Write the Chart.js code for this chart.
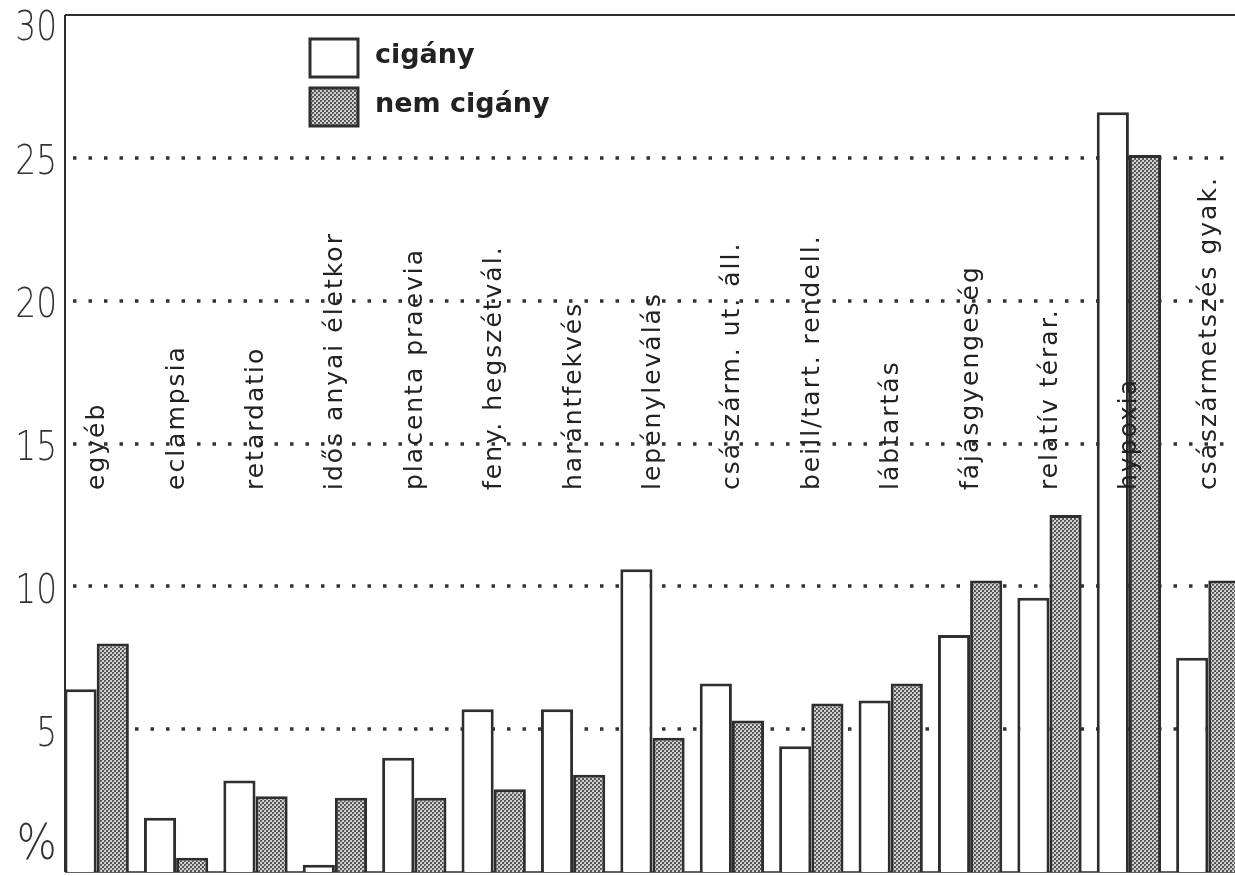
<!DOCTYPE html>
<html>
<head>
<meta charset="utf-8">
<script src="https://cdn.jsdelivr.net/npm/chart.js@4/dist/chart.umd.min.js"></script>
<style>
html,body{margin:0;padding:0;background:#fff;overflow:hidden;width:1235px;height:876px;}
canvas{display:block;}
</style>
</head>
<body>
<canvas id="c" width="1248" height="876"></canvas>
<script>
const categories = ["egyéb","eclampsia","retardatio","idős anyai életkor","placenta praevia","feny. hegszétvál.","harántfekvés","lepényleválás","császárm. ut. áll.","beill/tart. rendell.","lábtartás","fájásgyengeség","relatív térar.","hypoxia","császármetszés gyak."];
const cigany    = [6.4, 1.9, 3.2, 0.25, 4.0, 5.7, 5.7, 10.6, 6.6, 4.4, 6.0, 8.3, 9.6, 26.6, 7.5];
const nemCigany = [8.0, 0.5, 2.65, 2.6, 2.6, 2.9, 3.4, 4.7, 5.3, 5.9, 6.6, 10.2, 12.5, 25.1, 10.2];
const seriesNames = ["cigány", "nem cigány"];
const yTicks = [5, 10, 15, 20, 25, 30];
const zeroLabel = "%";

function makePattern(){
  const p = document.createElement('canvas');
  p.width = 4; p.height = 4;
  const g = p.getContext('2d');
  g.fillStyle = '#d0d0d0'; g.fillRect(0,0,4,4);
  g.fillStyle = '#555';
  g.fillRect(0,0,2,2);
  g.fillRect(2,2,2,2);
  g.fillStyle = '#888';
  g.fillRect(1,1,1,1);
  return document.getElementById('c').getContext('2d').createPattern(p,'repeat');
}
const pattern = makePattern();
const INK = '#2e2e2e';
const TXT_FONT = '"DejaVu Sans", "Open Sans", sans-serif';
const TICK_FONT = '"DejaVu Sans", "Liberation Sans", sans-serif';
const AXIS_X = 65;

const decor = {
  id: 'decor',
  beforeDatasetsDraw(chart){
    const ctx = chart.ctx, ys = chart.scales.y;
    ctx.save();
    ctx.strokeStyle = '#333'; ctx.lineWidth = 3.5;
    ctx.setLineDash([3.5, 12]);
    yTicks.filter(v => v < 30).forEach(v => {
      const y = Math.round(ys.getPixelForValue(v));
      ctx.beginPath(); ctx.moveTo(AXIS_X + 8, y); ctx.lineTo(chart.width, y); ctx.stroke();
    });
    ctx.setLineDash([]);
    ctx.strokeStyle = INK; ctx.lineWidth = 2;
    const yt = ys.getPixelForValue(30);
    ctx.beginPath(); ctx.moveTo(AXIS_X, yt); ctx.lineTo(chart.width, yt); ctx.stroke();
    ctx.lineWidth = 1.5;
    const yb = ys.getPixelForValue(0);
    ctx.beginPath(); ctx.moveTo(AXIS_X, yb); ctx.lineTo(chart.width, yb); ctx.stroke();
    ctx.lineWidth = 2;
    ctx.beginPath(); ctx.moveTo(AXIS_X, yt); ctx.lineTo(AXIS_X, yb); ctx.stroke();
    ctx.fillStyle = '#333';
    ctx.textAlign = 'right';
    ctx.textBaseline = 'middle';
    ctx.font = '200 40px ' + TICK_FONT;
    yTicks.forEach(v => {
      const y = Math.max(ys.getPixelForValue(v) + 6, 30);
      ctx.save();
      ctx.translate(57, y);
      ctx.scale(0.82, 1);
      ctx.fillText(String(v), 0, 0);
      ctx.restore();
    });
    ctx.font = '200 50px ' + TICK_FONT;
    ctx.save();
    ctx.translate(57, yb - 26);
    ctx.scale(0.85, 1);
    ctx.fillText(zeroLabel, 0, 0);
    ctx.restore();
    ctx.restore();
  },
  afterDatasetsDraw(chart){
    const ctx = chart.ctx;
    const xs = chart.scales.x;
    ctx.save();
    ctx.fillStyle = '#222';
    ctx.font = '25px ' + TXT_FONT;
    ctx.letterSpacing = '2px';
    ctx.textAlign = 'left';
    ctx.textBaseline = 'middle';
    categories.forEach((c,i)=>{
      const x = xs.getPixelForValue(i) + 1;
      ctx.save();
      ctx.translate(x, 490);
      ctx.rotate(-Math.PI/2);
      ctx.fillText(c, 0, 0);
      ctx.restore();
    });
    ctx.letterSpacing = '0px';
    const boxes = [{y:39, fill:'#fff'}, {y:88, fill:pattern}];
    ctx.font = 'bold 27px ' + TXT_FONT;
    boxes.forEach((b,i)=>{
      ctx.fillStyle = b.fill;
      ctx.fillRect(310, b.y, 48, 38);
      ctx.strokeStyle = INK; ctx.lineWidth = 3;
      ctx.strokeRect(310, b.y, 48, 38);
      ctx.fillStyle = '#222';
      ctx.fillText(seriesNames[i], 375, b.y + 17);
    });
    ctx.restore();
  }
};

new Chart(document.getElementById('c'), {
  type: 'bar',
  data: {
    labels: categories,
    datasets: [
      {label: seriesNames[0], data: cigany, backgroundColor: '#fff', borderColor: INK, borderWidth: 3, borderSkipped: 'bottom'},
      {label: seriesNames[1], data: nemCigany, backgroundColor: pattern, borderColor: INK, borderWidth: 3, borderSkipped: 'bottom'}
    ]
  },
  options: {
    responsive: false,
    animation: false,
    events: [],
    layout: {padding: {top: 15, right: 0, bottom: 4, left: 0}},
    datasets: {bar: {barPercentage: 1.0, categoryPercentage: 0.81}},
    plugins: {legend: {display: false}, tooltip: {enabled: false}},
    scales: {
      x: {display: false},
      y: {
        min: 0, max: 30,
        afterFit(s){ s.width = 57; },
        ticks: {display: false},
        grid: {display: false, drawTicks: false},
        border: {display: false}
      }
    }
  },
  plugins: [decor]
});
</script>
</body>
</html>
